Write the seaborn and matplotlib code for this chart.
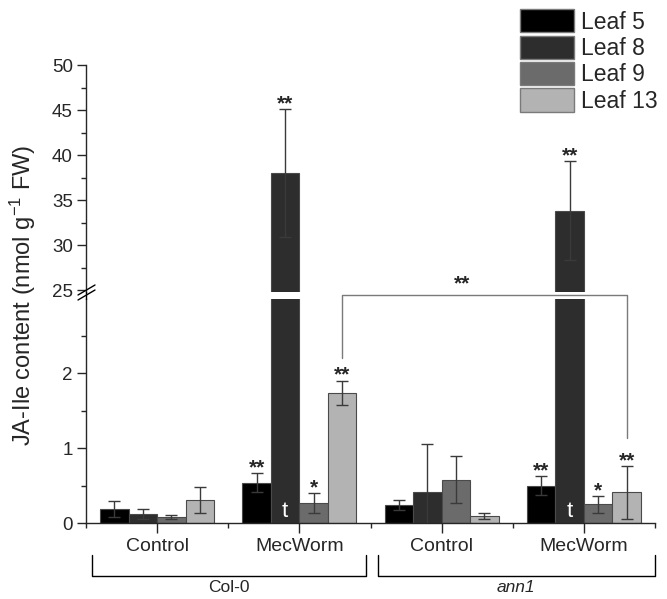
import numpy as np
import pandas as pd
import matplotlib
matplotlib.use('Agg')
import matplotlib.pyplot as plt
import seaborn as sns
from matplotlib.patches import Patch
from matplotlib.lines import Line2D

# data
groups = ['Col-0 Control', 'Col-0 MecWorm', 'ann1 Control', 'ann1 MecWorm']
tick_labels = ['Control', 'MecWorm', 'Control', 'MecWorm']
leaves = ['Leaf 5', 'Leaf 8', 'Leaf 9', 'Leaf 13']
leaf5 = [0.19, 0.54, 0.24, 0.50]
leaf8 = [0.12, 38.0, 0.42, 33.8]
leaf9 = [0.08, 0.27, 0.58, 0.25]
leaf13 = [0.31, 1.74, 0.10, 0.41]
leaf5_err = [0.11, 0.13, 0.07, 0.13]
leaf8_err = [0.07, 7.1, 0.63, 5.5]
leaf9_err = [0.03, 0.13, 0.31, 0.11]
leaf13_err = [0.17, 0.16, 0.04, 0.35]
sig5 = ['', '**', '', '**']
sig8 = ['', '**', '', '**']
sig9 = ['', '*', '', '*']
sig13 = ['', '**', '', '**']
leaf8_mark = ['', 't', '', 't']
genotypes = ['Col-0', 'ann1']
colors = ['#000000', '#2d2d2d', '#6b6b6b', '#b3b3b3']

vals = [leaf5, leaf8, leaf9, leaf13]
errs = [leaf5_err, leaf8_err, leaf9_err, leaf13_err]
sigs = [sig5, sig8, sig9, sig13]

rows = []
for leaf, v in zip(leaves, vals):
    for g, y in zip(groups, v):
        rows.append({'group': g, 'leaf': leaf, 'value': y})
df = pd.DataFrame(rows)

sns.set_style('ticks')
plt.rcParams['font.family'] = ['Liberation Sans', 'DejaVu Sans']
plt.rcParams['mathtext.fontset'] = 'custom'
plt.rcParams['mathtext.rm'] = 'Liberation Sans'
plt.rcParams['mathtext.it'] = 'Liberation Sans:italic'

W, H = 667, 599
fig = plt.figure(figsize=(W / 100, H / 100), dpi=100)
x0, x1 = 86, 655
ax_top = fig.add_axes([x0 / W, (H - 292) / H, (x1 - x0) / W, 227 / H])
ax_bot = fig.add_axes([x0 / W, (H - 523) / H, (x1 - x0) / W, 224 / H])

for ax in (ax_top, ax_bot):
    sns.barplot(data=df, x='group', y='value', hue='leaf', order=groups,
                hue_order=leaves, palette=colors, errorbar=None, width=0.8,
                saturation=1, edgecolor='#4a4a4a', linewidth=0.8,
                legend=False, ax=ax)
    for cont, e in zip(ax.containers, errs):
        xs = [p.get_x() + p.get_width() / 2 for p in cont]
        hs = [p.get_height() for p in cont]
        ax.errorbar(xs, hs, yerr=e, fmt='none', ecolor='#3a3a3a',
                    elinewidth=1, capsize=4.5, capthick=1, zorder=3)
    ax.set_xlim(-0.5, 3.5)
    ax.set_xlabel('')
    ax.set_ylabel('')
    sns.despine(ax=ax)
    ax.tick_params(axis='y', which='major', length=6.5, width=1, labelsize=13.5, pad=3)
    ax.tick_params(axis='y', which='minor', length=3.5, width=1)
    for s in ax.spines.values():
        s.set_linewidth(1)

# upper panel
ax_top.set_ylim(24.78, 50)
ax_top.set_yticks(np.arange(25, 51, 5))
ax_top.set_yticks(np.arange(27.5, 50, 5), minor=True)
ax_top.spines['bottom'].set_visible(False)
ax_top.set_xticks([])

# lower panel
ax_bot.set_ylim(0, 2.99)
ax_bot.set_yticks([0, 1, 2])
ax_bot.set_yticks([0.5, 1.5, 2.5], minor=True)
ax_bot.set_xticks(range(4))
ax_bot.set_xticklabels(tick_labels)
ax_bot.set_xticks([-0.5, 0.5, 1.5, 2.5, 3.5], minor=True)
ax_bot.tick_params(axis='x', which='major', length=7, width=1, labelsize=14, pad=4)
ax_bot.tick_params(axis='x', which='minor', length=3.5, width=1)

# significance marks and "t" labels
for i, (cont, e, sg) in enumerate(zip(ax_bot.containers, errs, sigs)):
    for j, p in enumerate(cont):
        xc = p.get_x() + p.get_width() / 2
        top = p.get_height() + e[j]
        if sg[j]:
            ax = ax_top if top > 24 else ax_bot
            ax.annotate(sg[j], (xc, top), xytext=(0, -3), textcoords='offset points',
                        ha='center', va='bottom', fontsize=15, fontweight='bold')
        if i == 1 and leaf8_mark[j]:
            ax_bot.text(xc, 0.02, leaf8_mark[j], color='white', ha='center',
                        va='bottom', fontsize=16)

# comparison bracket between Col-0 and ann1 MecWorm (Leaf 13)
c13 = ax_bot.containers[3]
xa = c13[1].get_x() + c13[1].get_width() / 2
xb = c13[3].get_x() + c13[3].get_width() / 2
ya = leaf13[1] + leaf13_err[1] + 0.3
yb = leaf13[3] + leaf13_err[3] + 0.37
ybr = 3.04
ax_bot.plot([xa, xa, xb, xb], [ya, ybr, ybr, yb], color='#7a7a7a', lw=1,
            clip_on=False, zorder=4)
ax_bot.text((xa + xb) / 2 - 0.16, ybr + 0.02, '**', ha='center', va='bottom',
            fontsize=15, fontweight='bold')

# axis break on the y spine
fx = x0 / W
fig.add_artist(Line2D([fx, fx], [(H - 299) / H, (H - 292) / H],
                      transform=fig.transFigure, color='black', lw=1))
for dy in (0, 5):
    fig.add_artist(Line2D([78 / W, 95 / W], [(H - 300 + dy) / H, (H - 290 + dy) / H],
                          transform=fig.transFigure, color='black', lw=1))

# genotype brackets below the axis
trans = ax_bot.get_xaxis_transform()
for g, (a, b) in zip(genotypes, [(-0.46, 1.47), (1.55, 3.5)]):
    ax_bot.plot([a, a, b, b], [-0.143, -0.237, -0.237, -0.143], color='black',
                lw=1, transform=trans, clip_on=False)
    ax_bot.text((a + b) / 2, -0.255, g, transform=trans, ha='center', va='top',
                fontsize=12.5, style='italic' if g == 'ann1' else 'normal')

# y label
fig.text(23 / W, (H - 295) / H, r'JA-Ile content (nmol g$^{-1}$ FW)',
         rotation=90, ha='center', va='center', fontsize=17)

# legend
handles = [Patch(facecolor=c, edgecolor='#7a7a7a', linewidth=1) for c in colors]
fig.legend(handles, leaves, loc='upper right', bbox_to_anchor=(1.0, 1.0),
           frameon=False, fontsize=16.5, handlelength=2.36, handleheight=1.18,
           handletextpad=0.3, labelspacing=0.09, borderaxespad=0.0)

fig.savefig('out.png', dpi=100)
